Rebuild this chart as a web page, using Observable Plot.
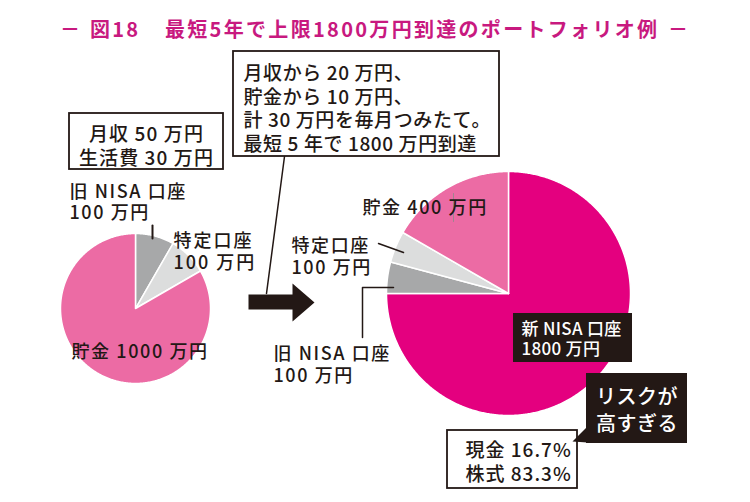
<!DOCTYPE html>
<html><head><meta charset="utf-8">
<script src="https://cdn.jsdelivr.net/npm/d3@7"></script>
<script src="https://cdn.jsdelivr.net/npm/@observablehq/plot@0.6"></script>
<style>
html,body{margin:0;padding:0;background:#fff;}
#title{position:relative;width:750px;height:50px;font-family:"Noto Sans CJK JP",sans-serif;font-weight:700;color:#c8197f;font-size:20px;}
#title span{position:absolute;top:29px;transform:translateY(-50%);white-space:nowrap;line-height:1;}
#chart svg{display:block;}
</style></head><body>
<div id="title"><span id="d1">－</span><span id="t1">図18</span><span id="t2">最短5年で上限1800万円到達のポートフォリオ例</span><span id="d2">－</span></div>
<div id="chart"></div>
<script>
// ---- data ----
const beforeItems = ["旧 NISA 口座", "特定口座", "貯金"];
const beforeValues = [100, 100, 1000];
const afterItems = ["新 NISA 口座", "旧 NISA 口座", "特定口座", "貯金"];
const afterValues = [1800, 100, 100, 400];
const mixLabels = ["現金", "株式"];
const mixValues = [16.7, 83.3];
const incomeLines = ["月収 50 万円", "生活費 30 万円"];
const planLines = ["月収から 20 万円、", "貯金から 10 万円、", "計 30 万円を毎月つみたて。", "最短 5 年で 1800 万円到達"];
const warnLines = ["リスクが", "高すぎる"];

// ---- styles ----
const colorOf = {"新 NISA 口座": "#e4007f", "旧 NISA 口座": "#a7a8a9", "特定口座": "#dcdddd", "貯金": "#ec6ba4"};
const INK = "#231815";
const W = 750, H = 502, TOP = 50;

// title fitting
function place(id, left, right) {
  const el = document.getElementById(id);
  el.style.left = left + "px";
  if (right != null) {
    const n = el.textContent.length;
    const w = el.getBoundingClientRect().width;
    el.style.letterSpacing = ((right - left - w) / (n - 1)) + "px";
  }
}
place("d1", 60); place("t1", 90, 138); place("t2", 165, 657); place("d2", 668);

function pieSlices(items, values, cx, cy, r) {
  const arcs = d3.pie().sort(null).value(d => d.v)(items.map((k, i) => ({k, v: values[i]})));
  const pts = [];
  arcs.forEach((a, j) => {
    const key = cx + "-" + j;
    const fill = colorOf[a.data.k];
    pts.push({key, fill, x: cx, y: cy});
    const n = Math.max(2, Math.ceil((a.endAngle - a.startAngle) / (Math.PI / 360)));
    for (let i = 0; i <= n; i++) {
      const t = a.startAngle + (a.endAngle - a.startAngle) * i / n;
      pts.push({key, fill, x: cx + r * Math.sin(t), y: cy - r * Math.cos(t)});
    }
  });
  return pts;
}

const leftPie = pieSlices(beforeItems, beforeValues, 135, 308, 75);
const rightPie = pieSlices(afterItems, afterValues, 508, 293, 122);

const lbl = (item, v, sep) => item + sep + v + " 万円";

const arrowShape = [[248,294],[292,294],[292,283],[314,302],[292,321],[292,309],[248,309]].map(([x,y]) => ({x, y}));

const spacings = [];
const txt = (x, y, t, o = {}, ls = 1.6) => {
  spacings.push(ls);
  return Plot.text([{x, y, t}], {x: "x", y: "y", text: "t", lineAnchor: "middle", textAnchor: "start", fontSize: 18, fill: INK, fontWeight: 500, lineHeight: 1.2, ...o});
};
const seg = (pts, o = {}) => Plot.line(pts.map(([x, y]) => ({x, y})), {x: "x", y: "y", stroke: INK, strokeWidth: 1.5, ...o});
const box = (x1, y1, x2, y2, o = {}) => Plot.rect([{x1, y1, x2, y2}], {x1: "x1", x2: "x2", y1: "y1", y2: "y2", fill: "white", stroke: INK, strokeWidth: 1.8, ...o});

const chart = Plot.plot({
  width: W, height: H - TOP, margin: 0,
  x: {domain: [0, W], range: [0, W], axis: null},
  y: {domain: [TOP, H], range: [0, H - TOP], axis: null},
  color: {type: "identity"},
  style: {fontFamily: '"Noto Sans CJK JP", sans-serif', background: "white", overflow: "visible"},
  marks: [
    seg([[284,156],[266,293]]),
    box(233, 51, 499, 156),
    txt(243, 107.5, planLines.join("\n"), {fontSize: 19, lineHeight: 1.245}, 0.6),
    box(69, 113, 223, 169),
    txt(146, 144.5, incomeLines.join("\n"), {fontSize: 19, textAnchor: "middle", lineHeight: 1.3}, 1.1),
    Plot.line(leftPie, {x: "x", y: "y", z: "key", fill: "fill", stroke: "white", strokeWidth: 1.5, curve: "linear-closed"}),
    Plot.line(rightPie, {x: "x", y: "y", z: "key", fill: "fill", stroke: "white", strokeWidth: 1.5, curve: "linear-closed"}),
    Plot.line(arrowShape, {x: "x", y: "y", fill: INK, stroke: "none", curve: "linear-closed"}),
    // left labels
    seg([[152,225],[152,238]], {strokeWidth: 2}),
    txt(69, 201, lbl(beforeItems[0], beforeValues[0], "\n")),
    txt(173, 250, lbl(beforeItems[1], beforeValues[1], "\n"), {lineHeight: 1.22}, 2),
    txt(71, 351, lbl(beforeItems[2], beforeValues[2], " ")),
    // right labels
    seg([[453,193],[453,221]], {stroke: "#8a8a8a", strokeWidth: 0.8}),
    txt(362, 207, lbl(afterItems[3], afterValues[3], " ")),
    seg([[378,243],[403,252]]),
    txt(291, 255, lbl(afterItems[2], afterValues[2], "\n"), {lineHeight: 1.22}),
    seg([[362,337],[362,287],[393,287]]),
    txt(273, 363, lbl(afterItems[1], afterValues[1], "\n"), {lineHeight: 1.22}),
    box(513, 313, 632, 362, {fill: INK, stroke: "none"}),
    txt(521, 338, lbl(afterItems[0], afterValues[0], "\n"), {fill: "white", fontSize: 17, lineHeight: 1.2}, 0.3),
    // mix box + warning callout
    box(447, 430, 577, 488),
    txt(465, 460.5, mixLabels.map((m, i) => m + " " + mixValues[i] + "%").join("\n"), {fontSize: 19, lineHeight: 1.3}, 1),
    Plot.line([{x:587,y:426},{x:587,y:442},{x:572,y:441}], {x: "x", y: "y", fill: INK, stroke: "none", curve: "linear-closed"}),
    box(586, 373, 687, 443, {fill: INK, stroke: "none"}),
    txt(636.5, 408.5, warnLines.join("\n"), {fill: "white", fontSize: 20, textAnchor: "middle", lineHeight: 1.35}, 0.5)
  ]
});
chart.querySelectorAll('g[aria-label="text"]').forEach((g, i) => {
  if (spacings[i] != null) g.style.letterSpacing = spacings[i] + "px";
});
document.getElementById("chart").appendChild(chart);
</script>
</body></html>
